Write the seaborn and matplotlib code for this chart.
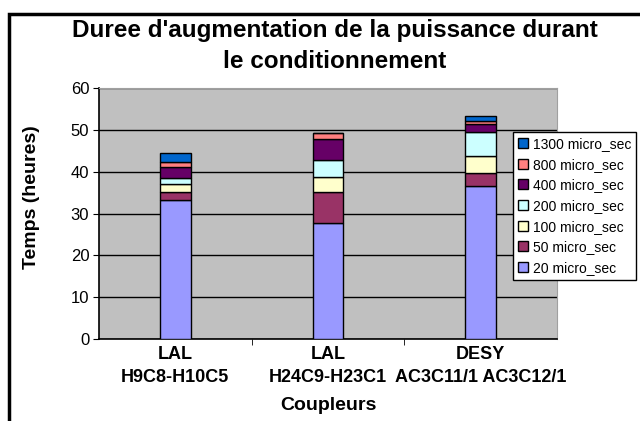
"""
Stacked bar chart: duree d'augmentation de la puissance durant le conditionnement.
"""

import matplotlib
matplotlib.use("Agg")
import matplotlib.pyplot as plt
from matplotlib.patches import Rectangle
import seaborn as sns

# Data (heures)
couplers = ["LAL\nH9C8-H10C5", "LAL\nH24C9-H23C1", "DESY\nAC3C11/1 AC3C12/1"]
pulse_labels = ["20 micro_sec", "50 micro_sec", "100 micro_sec", "200 micro_sec",
                "400 micro_sec", "800 micro_sec", "1300 micro_sec"]
t_20 = [33.3, 27.7, 36.6]
t_50 = [1.9, 7.5, 3.0]
t_100 = [1.8, 3.6, 4.1]
t_200 = [1.4, 4.1, 5.8]
t_400 = [2.6, 4.8, 1.8]
t_800 = [1.2, 1.6, 0.9]
t_1300 = [2.3, 0.0, 1.1]
pulse_colors = ["#9999FF", "#993366", "#FFFFCC", "#CCFFFF", "#660066", "#FF8080", "#0066CC"]

series = [t_20, t_50, t_100, t_200, t_400, t_800, t_1300]

sns.set_style("white")
plt.rcParams["font.family"] = ["Liberation Sans", "DejaVu Sans"]
plt.rcParams["text.color"] = "black"
plt.rcParams["axes.labelcolor"] = "black"
plt.rcParams["xtick.color"] = "black"
plt.rcParams["ytick.color"] = "black"

fig = plt.figure(figsize=(6.4, 4.21), dpi=100)
ax = fig.add_axes([99 / 640, 1 - 339 / 421, 458 / 640, 251 / 421])
ax.set_facecolor("#C0C0C0")

bottoms = [0.0, 0.0, 0.0]
for vals, lab, col in zip(series, pulse_labels, pulse_colors):
    sns.barplot(x=couplers, y=vals, bottom=bottoms, color=col, width=0.2,
                edgecolor="black", linewidth=1, label=lab, ax=ax,
                saturation=1, zorder=3)
    bottoms = [b + v for b, v in zip(bottoms, vals)]

handles, labels = ax.get_legend_handles_labels()
if ax.get_legend() is not None:
    ax.get_legend().remove()

ax.set_ylim(0, 60)
ax.set_xlim(-0.5, 2.5)
ax.set_yticks(range(0, 61, 10))
ax.yaxis.grid(True, color="black", linewidth=1)
ax.set_axisbelow(True)
ax.tick_params(axis="y", labelsize=12, length=4, direction="out", left=True, pad=3)
ax.tick_params(axis="x", labelsize=13, length=0, pad=5)
for t in ax.get_xticklabels():
    t.set_fontweight("bold")
    t.set_linespacing(1.45)
# minor ticks between categories
ax.set_xticks([0.5, 1.5], minor=True)
ax.tick_params(axis="x", which="minor", length=4, bottom=True)

for side in ["left", "bottom"]:
    ax.spines[side].set_color("black")
    ax.spines[side].set_linewidth(1.2)
for side in ["top", "right"]:
    ax.spines[side].set_color("#A0A0A0")

ax.set_ylabel("Temps (heures)", fontsize=14, fontweight="bold")
ax.yaxis.set_label_coords(-0.128, 0.565)
ax.set_xlabel("Coupleurs", fontsize=14, fontweight="bold", labelpad=8)

fig.text(335 / 640, 1 - 46 / 421, "Duree d'augmentation de la puissance durant\nle conditionnement",
         ha="center", va="center", fontsize=17.5, fontweight="bold", linespacing=1.4)

leg = fig.legend(handles[::-1], labels[::-1], loc="upper left",
                 bbox_to_anchor=(513 / 640, 1 - 132 / 421), fontsize=10,
                 frameon=True, fancybox=False, edgecolor="black", framealpha=1,
                 handlelength=0.7, handleheight=0.7, handletextpad=0.4,
                 labelspacing=0.48, borderpad=0.35, borderaxespad=0)
leg.get_frame().set_linewidth(1)

# outer chart border
fig.patches.append(Rectangle((9 / 640, -0.1), 1.0, (421 - 14) / 421 + 0.1,
                             transform=fig.transFigure, fill=False,
                             edgecolor="black", linewidth=2.5))

fig.savefig("out.png", dpi=100)
